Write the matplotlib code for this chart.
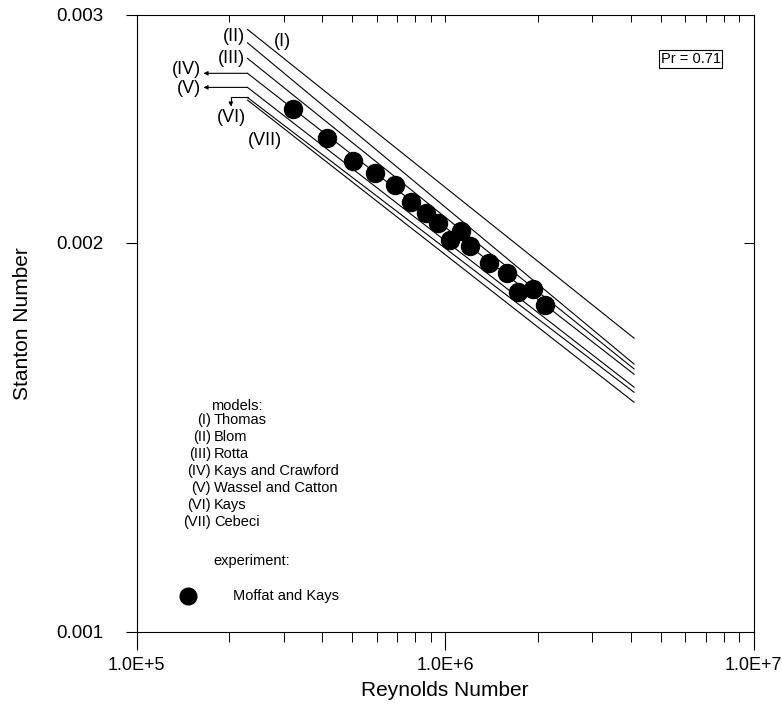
import matplotlib
matplotlib.use("Agg")
import matplotlib.pyplot as plt
from matplotlib.ticker import FixedLocator, NullLocator, LogLocator, NullFormatter
from matplotlib.transforms import ScaledTranslation

plt.rcParams['font.family'] = ['Liberation Sans', 'DejaVu Sans']

# Model correlations (straight lines in log-log), start/end Reynolds numbers
re_start = 2.29e5
re_end = 4.10e6
model_numerals = ["(I)", "(II)", "(III)", "(IV)", "(V)", "(VI)", "(VII)"]
model_names = ["Thomas", "Blom", "Rotta", "Kays and Crawford",
               "Wassel and Catton", "Kays", "Cebeci"]
st_start = [0.002924, 0.002855, 0.002777, 0.002704, 0.002637, 0.002590, 0.002578]
st_end = [0.001687, 0.001611, 0.001597, 0.001582, 0.001546, 0.001532, 0.001505]

# Experiment: Moffat and Kays
re_exp = [3.21e5, 4.14e5, 5.04e5, 5.95e5, 6.88e5, 7.78e5, 8.68e5, 9.51e5,
          1.038e6, 1.124e6, 1.205e6, 1.392e6, 1.585e6, 1.728e6, 1.933e6, 2.110e6]
st_exp = [0.002536, 0.002410, 0.002313, 0.002264, 0.002216, 0.002151, 0.002110,
          0.002072, 0.002010, 0.002040, 0.001989, 0.001928, 0.001894, 0.001833,
          0.001840, 0.001789]

x_ticks = [1e5, 1e6, 1e7]
x_tick_labels = ["1.0E+5", "1.0E+6", "1.0E+7"]
y_ticks = [0.001, 0.002, 0.003]
y_tick_labels = ["0.001", "0.002", "0.003"]

W, H = 782, 710
fig = plt.figure(figsize=(W / 100, H / 100), dpi=100)
L, R, T, B = 136.5, 753.5, 15.0, 631.7
ax = fig.add_axes([L / W, (H - B) / H, (R - L) / W, (B - T) / H])
ax.set_xscale('log')
ax.set_yscale('log')
ax.set_xlim(1e5, 1e7)
ax.set_ylim(0.001, 0.003)

ax.xaxis.set_major_locator(FixedLocator(x_ticks))
ax.set_xticklabels(x_tick_labels)
ax.xaxis.set_minor_locator(LogLocator(base=10, subs=range(2, 10)))
ax.xaxis.set_minor_formatter(NullFormatter())
ax.yaxis.set_major_locator(FixedLocator(y_ticks))
ax.set_yticklabels(y_tick_labels)
ax.yaxis.set_minor_locator(NullLocator())

ax.tick_params(axis='x', which='major', direction='out', length=13, width=0.8, pad=5,
               labelsize=13)
ax.tick_params(axis='x', which='minor', direction='out', length=7, width=0.7)
ax.tick_params(axis='y', which='major', direction='out', length=8, width=0.8, pad=16,
               labelsize=13.5)
for s in ax.spines.values():
    s.set_linewidth(0.8)

# inward ticks on top and right
top = ax.secondary_xaxis('top')
top.xaxis.set_major_locator(FixedLocator(x_ticks))
top.xaxis.set_minor_locator(LogLocator(base=10, subs=range(2, 10)))
top.xaxis.set_minor_formatter(NullFormatter())
top.tick_params(which='both', direction='in', length=5, width=0.7, labeltop=False)
top.spines['top'].set_visible(False)
right = ax.secondary_yaxis('right')
right.yaxis.set_major_locator(FixedLocator([0.002]))
right.yaxis.set_minor_locator(NullLocator())
right.tick_params(which='both', direction='in', length=7, width=0.7, labelright=False)
right.spines['right'].set_visible(False)

ax.set_xlabel("Reynolds Number", fontsize=15, labelpad=5)
ax.set_ylabel("Stanton Number", fontsize=15, labelpad=17)

# model curves
for s0, s1 in zip(st_start, st_end):
    ax.plot([re_start, re_end], [s0, s1], color='black', lw=0.8)

# experimental points
ax.plot(re_exp, st_exp, 'o', ms=13, color='black', linestyle='none')


def shifted(dx, dy):
    return ax.transData + ScaledTranslation(dx / 72, dy / 72, fig.dpi_scale_trans)


lab_kw = dict(fontsize=13, color='black')
# (I), (II), (III)
ax.text(re_start, st_start[0], model_numerals[0], transform=shifted(25.5, -9),
        ha='center', va='center', **lab_kw)
ax.text(re_start, st_start[1], model_numerals[1], transform=shifted(-2, 4.3),
        ha='right', va='center', **lab_kw)
ax.text(re_start, st_start[2], model_numerals[2], transform=shifted(-2, 0),
        ha='right', va='center', **lab_kw)
# (IV), (V) with straight arrows
arrow_kw = dict(arrowstyle='-|>', lw=0.8, color='black', shrinkA=0, shrinkB=0,
                mutation_scale=6)
for i, dy_lab in ((3, 2.4), (4, -0.7)):
    ax.annotate('', xy=(re_start, st_start[i]), xycoords=shifted(-31.7, 0),
                xytext=(re_start, st_start[i]), textcoords='data',
                arrowprops=arrow_kw)
    ax.text(re_start, st_start[i], model_numerals[i], transform=shifted(-33.5, dy_lab),
            ha='right', va='center', **lab_kw)
# (VI) with bent arrow
ax.annotate('', xy=(re_start, st_start[5]), xycoords=shifted(-12, -6.5),
            xytext=(re_start, st_start[5]), textcoords='data',
            arrowprops=dict(arrow_kw, connectionstyle='angle,angleA=180,angleB=90,rad=0'))
ax.text(re_start, st_start[5], model_numerals[5], transform=shifted(-11.5, -14.5),
        ha='center', va='center', **lab_kw)
# (VII)
ax.text(re_start, st_start[6], model_numerals[6], transform=shifted(12.8, -28.8),
        ha='center', va='center', **lab_kw)

# Prandtl number box
ax.text(0.898, 0.929, "Pr = 0.71", transform=ax.transAxes, fontsize=10.5,
        ha='center', va='center',
        bbox=dict(boxstyle='square,pad=0.12', fc='white', ec='black', lw=0.8))

# key for models and experiment
leg_fs = 10.5
ax.text(0.1207, 0.3665, "models:", transform=ax.transAxes, fontsize=leg_fs,
        ha='left', va='center')
row_y = 0.3430
for num, name in zip(model_numerals, model_names):
    ax.text(0.1207, row_y, num, transform=ax.transAxes, fontsize=leg_fs,
            ha='right', va='center')
    ax.text(0.1256, row_y, name, transform=ax.transAxes, fontsize=leg_fs,
            ha='left', va='center')
    row_y -= 0.0275
ax.text(0.1245, 0.1146, "experiment:", transform=ax.transAxes, fontsize=leg_fs,
        ha='left', va='center')
ax.plot([0.084], [0.0585], 'o', ms=12, color='black', transform=ax.transAxes,
        clip_on=False)
ax.text(0.1559, 0.0585, "Moffat and Kays", transform=ax.transAxes, fontsize=leg_fs,
        ha='left', va='center')

fig.savefig("out.png", dpi=100)
